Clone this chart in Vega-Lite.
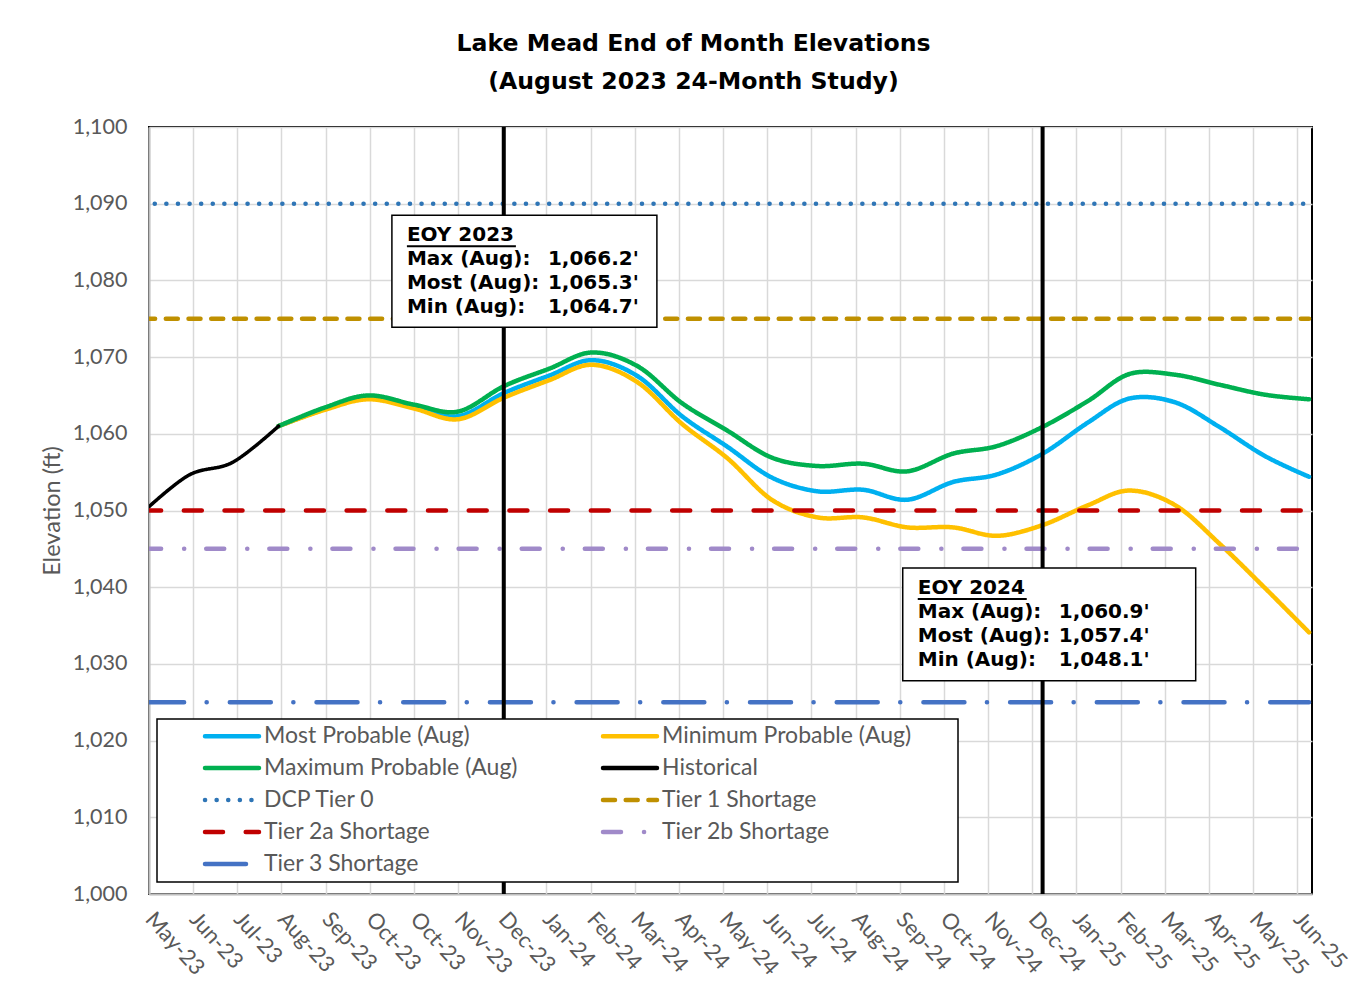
{
  "$schema": "https://vega.github.io/schema/vega-lite/v6.json",
  "width": 1163,
  "height": 767,
  "autosize": {"type": "none"},
  "padding": {"left": 149, "top": 127, "right": 48, "bottom": 97},
  "background": "#ffffff",
  "title": {
    "text": ["Lake Mead End of Month Elevations", "(August 2023 24-Month Study)"],
    "font": "DejaVu Sans",
    "fontSize": 23.6,
    "fontWeight": "bold",
    "color": "#000000",
    "anchor": "middle",
    "dx": -37,
    "offset": 22,
    "lineHeight": 38
  },
  "config": {
    "view": {"stroke": "#000000", "strokeWidth": 2},
    "legend": {"strokeWidth": 1.5}
  },
  "datasets": {
    "series": [
      {"date": "2023-07-31", "series": "Most Probable (Aug)", "elevation": 1061.0},
      {"date": "2023-08-31", "series": "Most Probable (Aug)", "elevation": 1063.2},
      {"date": "2023-09-30", "series": "Most Probable (Aug)", "elevation": 1064.7},
      {"date": "2023-10-31", "series": "Most Probable (Aug)", "elevation": 1063.5},
      {"date": "2023-11-30", "series": "Most Probable (Aug)", "elevation": 1062.3},
      {"date": "2023-12-31", "series": "Most Probable (Aug)", "elevation": 1065.3},
      {"date": "2024-01-31", "series": "Most Probable (Aug)", "elevation": 1067.6},
      {"date": "2024-02-29", "series": "Most Probable (Aug)", "elevation": 1069.6},
      {"date": "2024-03-31", "series": "Most Probable (Aug)", "elevation": 1067.5},
      {"date": "2024-04-30", "series": "Most Probable (Aug)", "elevation": 1062.3},
      {"date": "2024-05-31", "series": "Most Probable (Aug)", "elevation": 1058.3},
      {"date": "2024-06-30", "series": "Most Probable (Aug)", "elevation": 1054.3},
      {"date": "2024-07-31", "series": "Most Probable (Aug)", "elevation": 1052.5},
      {"date": "2024-08-31", "series": "Most Probable (Aug)", "elevation": 1052.7},
      {"date": "2024-09-30", "series": "Most Probable (Aug)", "elevation": 1051.4},
      {"date": "2024-10-31", "series": "Most Probable (Aug)", "elevation": 1053.7},
      {"date": "2024-11-30", "series": "Most Probable (Aug)", "elevation": 1054.7},
      {"date": "2024-12-31", "series": "Most Probable (Aug)", "elevation": 1057.4},
      {"date": "2025-01-31", "series": "Most Probable (Aug)", "elevation": 1061.5},
      {"date": "2025-02-28", "series": "Most Probable (Aug)", "elevation": 1064.6},
      {"date": "2025-03-31", "series": "Most Probable (Aug)", "elevation": 1064.1},
      {"date": "2025-04-30", "series": "Most Probable (Aug)", "elevation": 1060.9},
      {"date": "2025-05-31", "series": "Most Probable (Aug)", "elevation": 1057.1},
      {"date": "2025-06-30", "series": "Most Probable (Aug)", "elevation": 1054.4},

      {"date": "2023-07-31", "series": "Minimum Probable (Aug)", "elevation": 1061.0},
      {"date": "2023-08-31", "series": "Minimum Probable (Aug)", "elevation": 1063.1},
      {"date": "2023-09-30", "series": "Minimum Probable (Aug)", "elevation": 1064.5},
      {"date": "2023-10-31", "series": "Minimum Probable (Aug)", "elevation": 1063.3},
      {"date": "2023-11-30", "series": "Minimum Probable (Aug)", "elevation": 1061.9},
      {"date": "2023-12-31", "series": "Minimum Probable (Aug)", "elevation": 1064.7},
      {"date": "2024-01-31", "series": "Minimum Probable (Aug)", "elevation": 1067.0},
      {"date": "2024-02-29", "series": "Minimum Probable (Aug)", "elevation": 1069.0},
      {"date": "2024-03-31", "series": "Minimum Probable (Aug)", "elevation": 1066.7},
      {"date": "2024-04-30", "series": "Minimum Probable (Aug)", "elevation": 1061.3},
      {"date": "2024-05-31", "series": "Minimum Probable (Aug)", "elevation": 1056.8},
      {"date": "2024-06-30", "series": "Minimum Probable (Aug)", "elevation": 1051.4},
      {"date": "2024-07-31", "series": "Minimum Probable (Aug)", "elevation": 1049.1},
      {"date": "2024-08-31", "series": "Minimum Probable (Aug)", "elevation": 1049.1},
      {"date": "2024-09-30", "series": "Minimum Probable (Aug)", "elevation": 1047.8},
      {"date": "2024-10-31", "series": "Minimum Probable (Aug)", "elevation": 1047.8},
      {"date": "2024-11-30", "series": "Minimum Probable (Aug)", "elevation": 1046.7},
      {"date": "2024-12-31", "series": "Minimum Probable (Aug)", "elevation": 1048.1},
      {"date": "2025-01-31", "series": "Minimum Probable (Aug)", "elevation": 1050.7},
      {"date": "2025-02-28", "series": "Minimum Probable (Aug)", "elevation": 1052.6},
      {"date": "2025-03-31", "series": "Minimum Probable (Aug)", "elevation": 1050.7},
      {"date": "2025-04-30", "series": "Minimum Probable (Aug)", "elevation": 1045.7},
      {"date": "2025-05-31", "series": "Minimum Probable (Aug)", "elevation": 1039.9},
      {"date": "2025-06-30", "series": "Minimum Probable (Aug)", "elevation": 1034.1},

      {"date": "2023-07-31", "series": "Maximum Probable (Aug)", "elevation": 1061.0},
      {"date": "2023-08-31", "series": "Maximum Probable (Aug)", "elevation": 1063.4},
      {"date": "2023-09-30", "series": "Maximum Probable (Aug)", "elevation": 1065.0},
      {"date": "2023-10-31", "series": "Maximum Probable (Aug)", "elevation": 1063.8},
      {"date": "2023-11-30", "series": "Maximum Probable (Aug)", "elevation": 1062.9},
      {"date": "2023-12-31", "series": "Maximum Probable (Aug)", "elevation": 1066.2},
      {"date": "2024-01-31", "series": "Maximum Probable (Aug)", "elevation": 1068.5},
      {"date": "2024-02-29", "series": "Maximum Probable (Aug)", "elevation": 1070.6},
      {"date": "2024-03-31", "series": "Maximum Probable (Aug)", "elevation": 1068.8},
      {"date": "2024-04-30", "series": "Maximum Probable (Aug)", "elevation": 1064.0},
      {"date": "2024-05-31", "series": "Maximum Probable (Aug)", "elevation": 1060.4},
      {"date": "2024-06-30", "series": "Maximum Probable (Aug)", "elevation": 1056.9},
      {"date": "2024-07-31", "series": "Maximum Probable (Aug)", "elevation": 1055.8},
      {"date": "2024-08-31", "series": "Maximum Probable (Aug)", "elevation": 1056.1},
      {"date": "2024-09-30", "series": "Maximum Probable (Aug)", "elevation": 1055.1},
      {"date": "2024-10-31", "series": "Maximum Probable (Aug)", "elevation": 1057.4},
      {"date": "2024-11-30", "series": "Maximum Probable (Aug)", "elevation": 1058.4},
      {"date": "2024-12-31", "series": "Maximum Probable (Aug)", "elevation": 1060.9},
      {"date": "2025-01-31", "series": "Maximum Probable (Aug)", "elevation": 1064.3},
      {"date": "2025-02-28", "series": "Maximum Probable (Aug)", "elevation": 1067.8},
      {"date": "2025-03-31", "series": "Maximum Probable (Aug)", "elevation": 1067.7},
      {"date": "2025-04-30", "series": "Maximum Probable (Aug)", "elevation": 1066.4},
      {"date": "2025-05-31", "series": "Maximum Probable (Aug)", "elevation": 1065.1},
      {"date": "2025-06-30", "series": "Maximum Probable (Aug)", "elevation": 1064.5},

      {"date": "2023-04-30", "series": "Historical", "elevation": 1049.8},
      {"date": "2023-05-31", "series": "Historical", "elevation": 1054.6},
      {"date": "2023-06-30", "series": "Historical", "elevation": 1056.3},
      {"date": "2023-07-31", "series": "Historical", "elevation": 1061.0},

      {"date": "2023-04-30", "series": "DCP Tier 0", "elevation": 1090},
      {"date": "2025-06-30", "series": "DCP Tier 0", "elevation": 1090},
      {"date": "2023-04-30", "series": "Tier 1 Shortage", "elevation": 1075},
      {"date": "2025-06-30", "series": "Tier 1 Shortage", "elevation": 1075},
      {"date": "2023-04-30", "series": "Tier 2a Shortage", "elevation": 1050},
      {"date": "2025-06-30", "series": "Tier 2a Shortage", "elevation": 1050},
      {"date": "2023-04-30", "series": "Tier 2b Shortage", "elevation": 1045},
      {"date": "2025-06-30", "series": "Tier 2b Shortage", "elevation": 1045},
      {"date": "2023-04-30", "series": "Tier 3 Shortage", "elevation": 1025},
      {"date": "2025-06-30", "series": "Tier 3 Shortage", "elevation": 1025}
    ],
    "eoy": [
      {"date": "2023-12-31"},
      {"date": "2024-12-31"}
    ],
    "boxes": [
      {"start": "2023-10-16", "end": "2024-04-13", "top": 1088.5, "bottom": 1073.9},
      {"start": "2024-09-27", "end": "2025-04-14", "top": 1042.5, "bottom": 1027.8}
    ],
    "notes": [
      {"date": "2023-10-16", "elevation": 1085.9, "label": "EOY 2023", "value": "", "header": true},
      {"date": "2023-10-16", "elevation": 1082.8, "label": "Max (Aug):", "value": "1,066.2'", "header": false},
      {"date": "2023-10-16", "elevation": 1079.7, "label": "Most (Aug):", "value": "1,065.3'", "header": false},
      {"date": "2023-10-16", "elevation": 1076.5, "label": "Min (Aug):", "value": "1,064.7'", "header": false},
      {"date": "2024-09-27", "elevation": 1039.9, "label": "EOY 2024", "value": "", "header": true},
      {"date": "2024-09-27", "elevation": 1036.8, "label": "Max (Aug):", "value": "1,060.9'", "header": false},
      {"date": "2024-09-27", "elevation": 1033.6, "label": "Most (Aug):", "value": "1,057.4'", "header": false},
      {"date": "2024-09-27", "elevation": 1030.5, "label": "Min (Aug):", "value": "1,048.1'", "header": false}
    ]
  },
  "layer": [
    {
      "data": {"name": "series"},
      "transform": [{"filter": {"field": "series", "oneOf": ["Most Probable (Aug)", "Minimum Probable (Aug)", "Maximum Probable (Aug)"]}}],
      "mark": {"type": "line", "interpolate": "cardinal", "strokeWidth": 4.5, "strokeCap": "round", "strokeJoin": "round", "clip": true},
      "encoding": {
        "x": {
          "field": "date", "type": "temporal",
          "scale": {"type": "utc", "domain": [{"year": 2023, "month": 5, "date": 4, "utc": true}, {"year": 2025, "month": 7, "date": 2, "utc": true}]},
          "axis": {
            "title": null,
            "format": "%b-%y",
            "values": [
              {"year": 2023, "month": 5, "date": 4, "utc": true},
              {"year": 2023, "month": 6, "date": 3, "utc": true},
              {"year": 2023, "month": 7, "date": 3, "utc": true},
              {"year": 2023, "month": 8, "date": 2, "utc": true},
              {"year": 2023, "month": 9, "date": 1, "utc": true},
              {"year": 2023, "month": 10, "date": 1, "utc": true},
              {"year": 2023, "month": 10, "date": 31, "utc": true},
              {"year": 2023, "month": 11, "date": 30, "utc": true},
              {"year": 2023, "month": 12, "date": 30, "utc": true},
              {"year": 2024, "month": 1, "date": 29, "utc": true},
              {"year": 2024, "month": 2, "date": 28, "utc": true},
              {"year": 2024, "month": 3, "date": 29, "utc": true},
              {"year": 2024, "month": 4, "date": 28, "utc": true},
              {"year": 2024, "month": 5, "date": 28, "utc": true},
              {"year": 2024, "month": 6, "date": 27, "utc": true},
              {"year": 2024, "month": 7, "date": 27, "utc": true},
              {"year": 2024, "month": 8, "date": 26, "utc": true},
              {"year": 2024, "month": 9, "date": 25, "utc": true},
              {"year": 2024, "month": 10, "date": 25, "utc": true},
              {"year": 2024, "month": 11, "date": 24, "utc": true},
              {"year": 2024, "month": 12, "date": 24, "utc": true},
              {"year": 2025, "month": 1, "date": 23, "utc": true},
              {"year": 2025, "month": 2, "date": 22, "utc": true},
              {"year": 2025, "month": 3, "date": 24, "utc": true},
              {"year": 2025, "month": 4, "date": 23, "utc": true},
              {"year": 2025, "month": 5, "date": 23, "utc": true},
              {"year": 2025, "month": 6, "date": 22, "utc": true}
            ],
            "labelAngle": 48,
            "labelAlign": "left",
            "labelBaseline": "middle",
            "labelPadding": 21,
            "labelFont": "Lato",
            "labelFontSize": 22,
            "labelColor": "#595959",
            "labelOverlap": false,
            "labelFlush": false,
            "ticks": false,
            "grid": true,
            "gridColor": "#d9d9d9",
            "gridWidth": 1.5,
            "domainColor": "#bfbfbf",
            "domainWidth": 2
          }
        },
        "y": {
          "field": "elevation", "type": "quantitative",
          "scale": {"domain": [1000, 1100], "nice": false, "zero": false},
          "axis": {
            "title": "Elevation (ft)",
            "titleFont": "Lato",
            "titleFontSize": 23.5,
            "titleFontWeight": "normal",
            "titleColor": "#595959",
            "titleAngle": -90,
            "titleX": -97,
            "titleY": 383.5,
            "titleAlign": "center",
            "titleBaseline": "middle",
            "values": [1000, 1010, 1020, 1030, 1040, 1050, 1060, 1070, 1080, 1090, 1100],
            "format": ",",
            "labelFont": "Lato",
            "labelFontSize": 21.5,
            "labelColor": "#595959",
            "labelPadding": 22,
            "ticks": false,
            "grid": true,
            "gridColor": "#d9d9d9",
            "gridWidth": 1.5,
            "domainColor": "#bfbfbf",
            "domainWidth": 2
          }
        },
        "color": {
          "field": "series", "type": "nominal",
          "scale": {
            "domain": ["Most Probable (Aug)", "Minimum Probable (Aug)", "Maximum Probable (Aug)", "Historical", "DCP Tier 0", "Tier 1 Shortage", "Tier 2a Shortage", "Tier 2b Shortage", "Tier 3 Shortage"],
            "range": ["#00B0F0", "#FFC000", "#00B050", "#000000", "#2E75B6", "#BF9000", "#C00000", "#A08AC9", "#4472C4"]
          },
          "legend": {
            "orient": "none",
            "legendX": 8,
            "legendY": 592,
            "columns": 2,
            "direction": "horizontal",
            "title": null,
            "symbolType": "M-3,0H3",
            "symbolSize": 324,
            "symbolStrokeWidth": 4.5,
            "labelFont": "Lato",
            "labelFontSize": 23,
            "labelColor": "#595959",
            "labelLimit": 600,
            "labelExpr": "datum.label == 'Minimum Probable (Aug)' ? datum.label + '\u00a0\u00a0\u00a0\u00a0\u00a0\u00a0\u00a0\u200b' : datum.label",
            "padding": 5.5,
            "rowPadding": 8,
            "columnPadding": 43,
            "symbolOffset": 58,
            "labelOffset": 20.5,
            "strokeColor": "#000000",
            "fillColor": "#ffffff",
            "encode": {"symbols": {"update": {"strokeCap": {"value": "round"}}}}
          }
        },
        "strokeDash": {
          "field": "series", "type": "nominal",
          "scale": {
            "domain": ["Most Probable (Aug)", "Minimum Probable (Aug)", "Maximum Probable (Aug)", "Historical", "DCP Tier 0", "Tier 1 Shortage", "Tier 2a Shortage", "Tier 2b Shortage", "Tier 3 Shortage"],
            "range": [[1, 0], [1, 0], [1, 0], [1, 0], [0.1, 11.5], [12, 10.7], [18, 22.7], [18, 23, 0.1, 22], [41, 22.5, 0.1, 23.1]]
          }
        }
      }
    },
    {
      "data": {"name": "series"},
      "transform": [{"filter": {"field": "series", "equal": "Historical"}}],
      "mark": {"type": "line", "interpolate": "cardinal", "strokeWidth": 3.5, "strokeCap": "round", "strokeJoin": "round", "clip": true},
      "encoding": {
        "x": {"field": "date", "type": "temporal"},
        "y": {"field": "elevation", "type": "quantitative"},
        "color": {"field": "series", "type": "nominal"},
        "strokeDash": {"field": "series", "type": "nominal"}
      }
    },
    {
      "data": {"name": "series"},
      "transform": [{"filter": {"field": "series", "oneOf": ["DCP Tier 0", "Tier 1 Shortage", "Tier 2a Shortage", "Tier 2b Shortage", "Tier 3 Shortage"]}}],
      "mark": {"type": "line", "strokeWidth": 4.5, "strokeCap": "round", "clip": true},
      "encoding": {
        "x": {"field": "date", "type": "temporal"},
        "y": {"field": "elevation", "type": "quantitative"},
        "color": {"field": "series", "type": "nominal"},
        "strokeDash": {"field": "series", "type": "nominal"}
      }
    },
    {
      "data": {"name": "eoy"},
      "mark": {"type": "rule", "color": "#000000", "strokeWidth": 4},
      "encoding": {
        "x": {"field": "date", "type": "temporal"}
      }
    },
    {
      "data": {"name": "boxes"},
      "mark": {"type": "rect", "fill": "#ffffff", "stroke": "#000000", "strokeWidth": 1.5},
      "encoding": {
        "x": {"field": "start", "type": "temporal"},
        "x2": {"field": "end"},
        "y": {"field": "top", "type": "quantitative"},
        "y2": {"field": "bottom"}
      }
    },
    {
      "data": {"name": "notes"},
      "mark": {"type": "text", "align": "left", "baseline": "middle", "dx": 15, "font": "DejaVu Sans", "fontSize": 20, "fontWeight": "bold", "color": "#000000"},
      "encoding": {
        "x": {"field": "date", "type": "temporal"},
        "y": {"field": "elevation", "type": "quantitative"},
        "text": {"field": "label", "type": "nominal"}
      }
    },
    {
      "data": {"name": "notes"},
      "mark": {"type": "text", "align": "left", "baseline": "middle", "dx": 156, "font": "DejaVu Sans", "fontSize": 20, "fontWeight": "bold", "color": "#000000"},
      "encoding": {
        "x": {"field": "date", "type": "temporal"},
        "y": {"field": "elevation", "type": "quantitative"},
        "text": {"field": "value", "type": "nominal"}
      }
    },
    {
      "data": {"name": "notes"},
      "transform": [{"filter": "datum.header"}],
      "mark": {"type": "rule", "color": "#000000", "strokeWidth": 2, "xOffset": 15, "x2Offset": 124, "yOffset": 11},
      "encoding": {
        "x": {"field": "date", "type": "temporal"},
        "x2": {"field": "date"},
        "y": {"field": "elevation", "type": "quantitative"}
      }
    }
  ]
}
